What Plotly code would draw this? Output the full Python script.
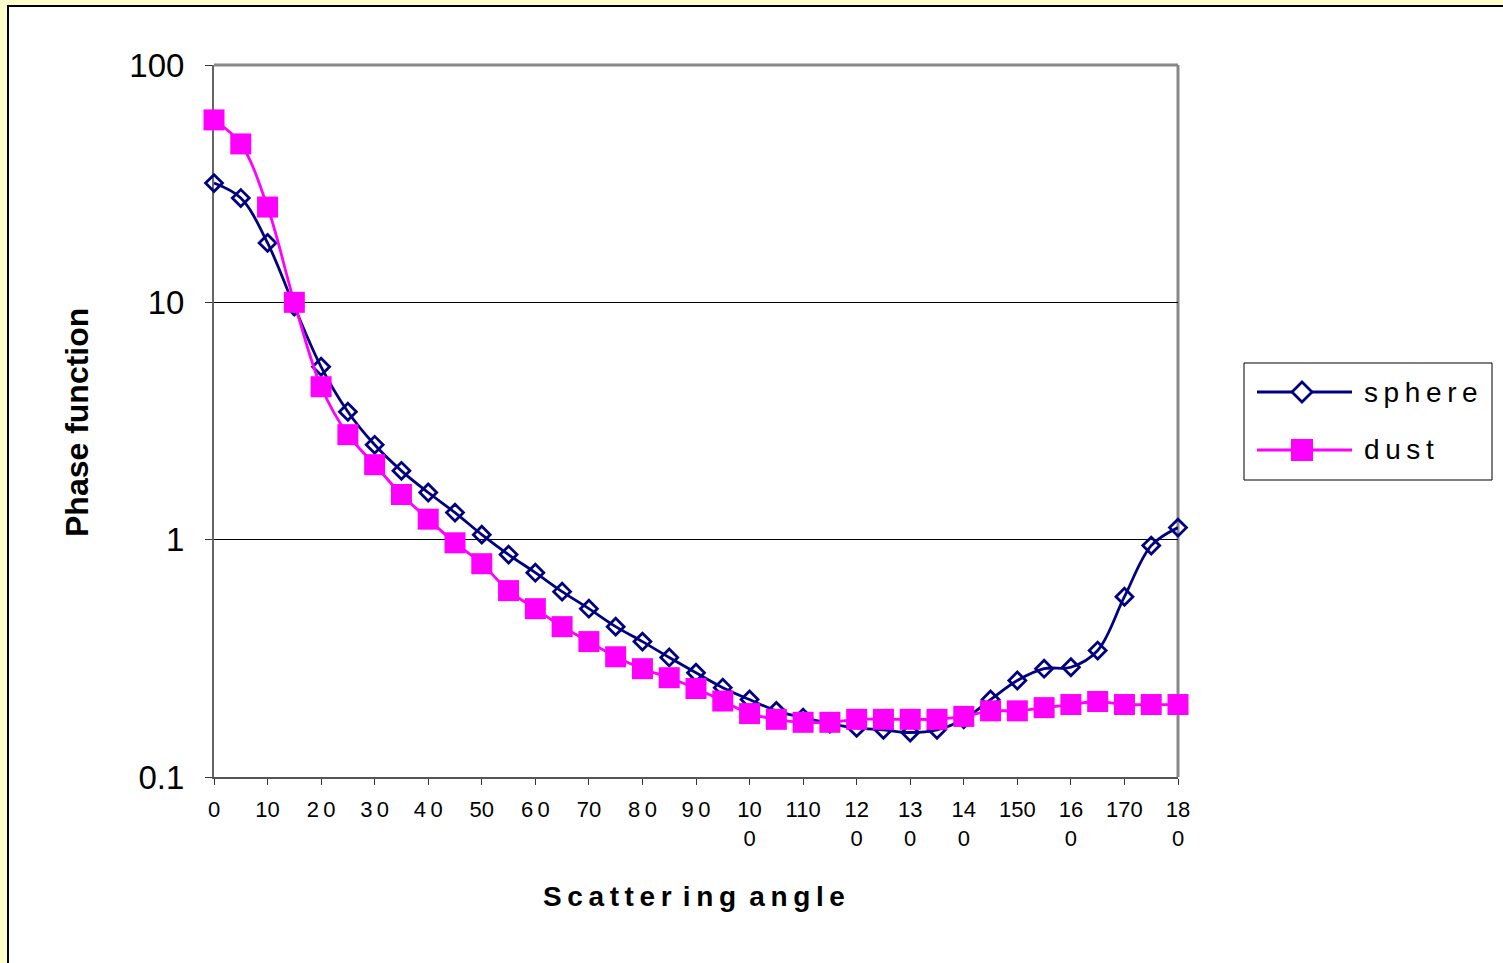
import plotly.graph_objects as go

# ---- data ----
angles = [0, 5, 10, 15, 20, 25, 30, 35, 40, 45, 50, 55, 60, 65, 70, 75, 80, 85, 90,
          95, 100, 105, 110, 115, 120, 125, 130, 135, 140, 145, 150, 155, 160, 165,
          170, 175, 180]
sphere = [31.8, 27.5, 17.8, 9.6, 5.35, 3.46, 2.51, 1.95, 1.58, 1.30, 1.05, 0.865,
          0.726, 0.604, 0.512, 0.430, 0.372, 0.319, 0.275, 0.238, 0.212, 0.190,
          0.178, 0.168, 0.161, 0.158, 0.154, 0.158, 0.175, 0.212, 0.255, 0.286,
          0.290, 0.341, 0.575, 0.944, 1.124]
dust = [58.7, 46.5, 25.2, 10.0, 4.41, 2.77, 2.07, 1.55, 1.22, 0.97, 0.792, 0.61,
        0.512, 0.43, 0.372, 0.321, 0.286, 0.262, 0.236, 0.209, 0.185, 0.175,
        0.170, 0.170, 0.175, 0.175, 0.175, 0.175, 0.180, 0.190, 0.190, 0.196,
        0.202, 0.208, 0.202, 0.202, 0.202]
x_tickvals = [0, 10, 20, 30, 40, 50, 60, 70, 80, 90, 100, 110, 120, 130, 140, 150, 160, 170, 180]
T = "\u2009"
x_ticktext = ["0", "10", "2" + T + "0", "3" + T + "0", "4" + T + "0", "50", "6" + T + "0",
              "70", "8" + T + "0", "9" + T + "0", "10<br>0", "110", "12<br>0", "13<br>0",
              "14<br>0", "150", "16<br>0", "170", "18<br>0"]
y_tickvals = [0.1, 1, 10, 100]
y_ticktext = ["0.1", "1", "10", "100"]
series_names = ["sphere", "dust"]

NAVY = "#000080"
MAGENTA = "#FF00FF"
FONT = "Liberation Sans, Arial, sans-serif"

# plot area in pixels
L, R, TOP, BOT = 214, 1178, 65, 777
W, H = 1503, 963


def px(x, y):
    return (x - L) / (R - L), (BOT - y) / (BOT - TOP)


fig = go.Figure()
fig.add_trace(go.Scatter(
    x=angles, y=sphere, name=series_names[0], mode="lines+markers",
    line=dict(color=NAVY, width=2.8, shape="spline"),
    marker=dict(symbol="diamond-open", size=13, color=NAVY, line=dict(width=2.8, color=NAVY)),
    cliponaxis=False, showlegend=False))
fig.add_trace(go.Scatter(
    x=angles, y=dust, name=series_names[1], mode="lines+markers",
    line=dict(color=MAGENTA, width=2.8, shape="spline"),
    marker=dict(symbol="square", size=21, color=MAGENTA, line=dict(width=0)),
    cliponaxis=False, showlegend=False))

shapes = []
# outer chart area (white with black border)
x0, y0 = px(8, 6)
x1, y1 = px(W + 30, H + 30)
shapes.append(dict(type="rect", xref="paper", yref="paper", x0=x0, y0=y1, x1=x1, y1=y0,
                   line=dict(color="black", width=2), fillcolor="white", layer="below"))
# top and right plot-area border (gray)
shapes.append(dict(type="line", xref="paper", yref="paper", x0=0, y0=1, x1=1, y1=1,
                   line=dict(color="#888888", width=3), layer="between"))
shapes.append(dict(type="line", xref="paper", yref="paper", x0=1, y0=0, x1=1, y1=1,
                   line=dict(color="#888888", width=3), layer="between"))

# legend box
bx0, by0 = px(1244, 363)
bx1, by1 = px(1492, 480)
shapes.append(dict(type="rect", xref="paper", yref="paper", x0=bx0, y0=by1, x1=bx1, y1=by0,
                   line=dict(color="black", width=1), fillcolor="white", layer="above"))
# sphere legend line + diamond
lx0, ly = px(1257, 392)
lx1, _ = px(1352, 392)
shapes.append(dict(type="line", xref="paper", yref="paper", x0=lx0, y0=ly, x1=lx1, y1=ly,
                   line=dict(color=NAVY, width=2.8), layer="above"))
cx, cy = 1302, 392
pts = [px(cx - 10, cy), px(cx, cy - 10), px(cx + 10, cy), px(cx, cy + 10)]
path = "M {} {} L {} {} L {} {} L {} {} Z".format(*[v for p in pts for v in p])
shapes.append(dict(type="path", xref="paper", yref="paper", path=path,
                   line=dict(color=NAVY, width=2.8), fillcolor="white", layer="above"))
# dust legend line + square
lx0, ly = px(1257, 450)
lx1, _ = px(1352, 450)
shapes.append(dict(type="line", xref="paper", yref="paper", x0=lx0, y0=ly, x1=lx1, y1=ly,
                   line=dict(color=MAGENTA, width=2.8), layer="above"))
sx0, sy0 = px(1291, 439)
sx1, sy1 = px(1313, 461)
shapes.append(dict(type="rect", xref="paper", yref="paper", x0=sx0, y0=sy1, x1=sx1, y1=sy0,
                   line=dict(width=0), fillcolor=MAGENTA, layer="above"))

annotations = []
for name, yy in zip(series_names, [392, 449]):
    ax, ay = px(1362, yy)
    annotations.append(dict(text=T.join(name), xref="paper", yref="paper", x=ax, y=ay,
                            xanchor="left", yanchor="middle", showarrow=False,
                            font=dict(family=FONT, size=28, color="black")))
# axis titles
tx, ty = px(694, 896)
annotations.append(dict(text="<b>" + T.join("Scatter") + T + T + T.join("ing") + T + " " + T.join("angle") + "</b>",
                        xref="paper", yref="paper", x=tx, y=ty, xanchor="center", yanchor="middle",
                        showarrow=False, font=dict(family=FONT, size=28, color="black")))
tx, ty = px(77, 423)
annotations.append(dict(text="<b>Phase function</b>", xref="paper", yref="paper", x=tx, y=ty,
                        xanchor="center", yanchor="middle", textangle=-90, showarrow=False,
                        font=dict(family=FONT, size=32, color="black")))

fig.update_layout(
    width=W, height=H,
    margin=dict(l=L, r=W - R, t=TOP, b=H - BOT, pad=0),
    paper_bgcolor="#FFFFCC", plot_bgcolor="white",
    shapes=shapes, annotations=annotations,
    showlegend=False,
    font=dict(family=FONT, color="black"),
)
fig.update_xaxes(
    range=[0, 180], tickvals=x_tickvals, ticktext=x_ticktext,
    showgrid=False, zeroline=False, showline=True, linecolor="#555555", linewidth=2,
    ticks="outside", ticklen=6, tickwidth=1, tickcolor="#333333",
    tickfont=dict(family=FONT, size=22, color="black"), tickangle=0,
    ticklabelstandoff=6, layer="below traces",
)
fig.update_yaxes(
    type="log", range=[-1, 2], tickvals=y_tickvals, ticktext=y_ticktext,
    showgrid=True, gridcolor="#000000", gridwidth=1, zeroline=False,
    showline=True, linecolor="#666666", linewidth=2,
    ticks="outside", ticklen=7, tickwidth=1, tickcolor="#333333",
    tickfont=dict(family=FONT, size=33, color="black"),
    ticklabelstandoff=14, layer="below traces",
)

fig.write_html("out.html", config={"displayModeBar": False},
               post_script="document.body.style.margin='0px';document.body.style.overflow='hidden';")
